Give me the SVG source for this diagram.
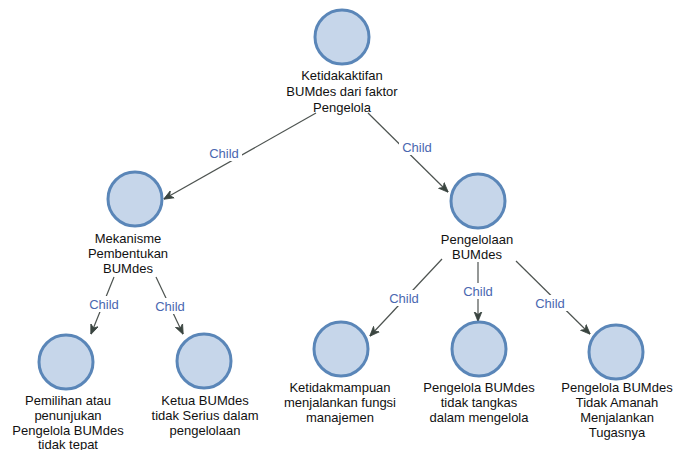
<svg xmlns="http://www.w3.org/2000/svg" width="673" height="450" viewBox="0 0 673 450">
<defs>
<style>
.c{fill:#c6d6ea;stroke:#5a86b8;stroke-width:3}
.t{font-family:"Liberation Sans",Arial,sans-serif;font-size:13px;fill:#111;text-anchor:middle}
.l{font-family:"Liberation Sans",Arial,sans-serif;font-size:13px;fill:#4a67b0;text-anchor:middle}
.e{stroke:#4d5350;stroke-width:1.2;fill:none;marker-end:url(#a)}
</style>
<marker id="a" viewBox="0 0 10 10" refX="9.5" refY="5" markerWidth="10" markerHeight="10" markerUnits="userSpaceOnUse" orient="auto">
<path d="M0,1 L10,5 L0,9 L3,5 z" fill="#3a4540" stroke="#3a4540" stroke-width="0.8"/>
</marker>
</defs>
<rect width="673" height="450" fill="#fff"/>
<g id="edges">
<line class="e" x1="316" y1="113" x2="164" y2="199"/>
<line class="e" x1="368" y1="113" x2="448" y2="192"/>
<line class="e" x1="114" y1="277" x2="91" y2="334"/>
<line class="e" x1="156" y1="277" x2="183" y2="334"/>
<line class="e" x1="442" y1="259" x2="370" y2="336"/>
<line class="e" x1="478" y1="262" x2="478" y2="321"/>
<line class="e" x1="516" y1="261" x2="590" y2="334"/>
</g>
<g id="labels">
<rect x="206" y="145" width="36" height="16" fill="#fff"/>
<text class="l" x="224" y="158">Child</text>
<rect x="399" y="139" width="36" height="16" fill="#fff"/>
<text class="l" x="417" y="152">Child</text>
<rect x="86" y="296" width="36" height="16" fill="#fff"/>
<text class="l" x="104" y="309">Child</text>
<rect x="152" y="298" width="36" height="16" fill="#fff"/>
<text class="l" x="170" y="311">Child</text>
<rect x="386" y="290" width="36" height="16" fill="#fff"/>
<text class="l" x="404" y="303">Child</text>
<rect x="460" y="283" width="36" height="16" fill="#fff"/>
<text class="l" x="478" y="296">Child</text>
<rect x="532" y="295" width="36" height="16" fill="#fff"/>
<text class="l" x="550" y="308">Child</text>
</g>
<g id="n0"><circle class="c" cx="342" cy="37" r="27"/>
<text class="t" x="342" y="80">Ketidakaktifan</text><text class="t" x="342" y="96">BUMdes dari faktor</text><text class="t" x="342" y="112">Pengelola</text></g>
<g id="n1"><circle class="c" cx="135" cy="199" r="27"/>
<text class="t" x="128" y="243">Mekanisme</text><text class="t" x="128" y="258">Pembentukan</text><text class="t" x="128" y="273">BUMdes</text></g>
<g id="n2"><circle class="c" cx="478" cy="201" r="27"/>
<text class="t" x="477" y="244">Pengelolaan</text><text class="t" x="477" y="259">BUMdes</text></g>
<g id="n3"><circle class="c" cx="66" cy="362" r="27"/>
<text class="t" x="68" y="405">Pemilihan atau</text><text class="t" x="68" y="420">penunjukan</text><text class="t" x="68" y="435">Pengelola BUMdes</text><text class="t" x="68" y="449">tidak tepat</text></g>
<g id="n4"><circle class="c" cx="204" cy="361" r="27"/>
<text class="t" x="205" y="405">Ketua BUMdes</text><text class="t" x="205" y="420">tidak Serius dalam</text><text class="t" x="205" y="435">pengelolaan</text></g>
<g id="n5"><circle class="c" cx="341" cy="349" r="27"/>
<text class="t" x="340" y="392">Ketidakmampuan</text><text class="t" x="340" y="407">menjalankan fungsi</text><text class="t" x="340" y="422">manajemen</text></g>
<g id="n6"><circle class="c" cx="479" cy="349" r="27"/>
<text class="t" x="479" y="392">Pengelola BUMdes</text><text class="t" x="479" y="407">tidak tangkas</text><text class="t" x="479" y="422">dalam mengelola</text></g>
<g id="n7"><circle class="c" cx="616" cy="352" r="27"/>
<text class="t" x="617" y="392">Pengelola BUMdes</text><text class="t" x="617" y="407">Tidak Amanah</text><text class="t" x="617" y="422">Menjalankan</text><text class="t" x="617" y="437">Tugasnya</text></g>
</svg>
